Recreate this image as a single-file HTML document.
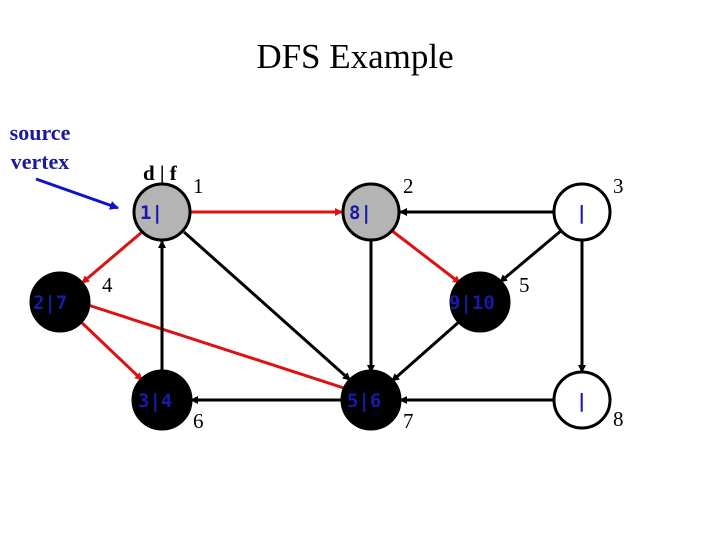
<!DOCTYPE html>
<html><head><style>
body{margin:0;width:720px;height:540px;background:#fff;overflow:hidden}
svg{display:block}
</style></head><body>
<svg width="720" height="540" xmlns="http://www.w3.org/2000/svg">
<defs>
<marker id="ab" markerWidth="8" markerHeight="8" refX="7" refY="4" orient="auto" markerUnits="userSpaceOnUse"><path d="M0,0 L8,4 L0,8 z" fill="#000"/></marker>
<marker id="ar" markerWidth="8" markerHeight="8" refX="7" refY="4" orient="auto" markerUnits="userSpaceOnUse"><path d="M0,0 L8,4 L0,8 z" fill="#e01010"/></marker>
<marker id="au" markerWidth="9" markerHeight="9" refX="8" refY="4.5" orient="auto" markerUnits="userSpaceOnUse"><path d="M0,0 L9,4.5 L0,9 z" fill="#1010d0"/></marker>
</defs>
<text x="355" y="68" font-family="Liberation Serif" font-size="35" text-anchor="middle">DFS Example</text>
<text x="40" y="140" font-family="Liberation Serif" font-size="22" font-weight="bold" fill="#1a1aa0" text-anchor="middle">source</text>
<text x="40" y="169" font-family="Liberation Serif" font-size="22" font-weight="bold" fill="#1a1aa0" text-anchor="middle">vertex</text>
<line x1="36" y1="179" x2="118" y2="208" stroke="#1010d0" stroke-width="3" marker-end="url(#au)"/>
<g stroke-width="3" fill="none">
<line x1="190" y1="212" x2="342" y2="212" stroke="#e01010" marker-end="url(#ar)"/>
<line x1="554" y1="212" x2="400" y2="212" stroke="#000" marker-end="url(#ab)"/>
<line x1="391" y1="230" x2="460" y2="283" stroke="#e01010" marker-end="url(#ar)"/>
<line x1="562" y1="230" x2="500" y2="282" stroke="#000" marker-end="url(#ab)"/>
<line x1="582" y1="240" x2="582" y2="372" stroke="#000" marker-end="url(#ab)"/>
<line x1="142" y1="232" x2="82" y2="283" stroke="#e01010" marker-end="url(#ar)"/>
<line x1="80" y1="321" x2="142" y2="380" stroke="#e01010" marker-end="url(#ar)"/>
<line x1="88" y1="305" x2="350" y2="390" stroke="#e01010" marker-end="url(#ar)"/>
<line x1="184" y1="232" x2="350" y2="380" stroke="#000" marker-end="url(#ab)"/>
<line x1="162" y1="372" x2="162" y2="241" stroke="#000" marker-end="url(#ab)"/>
<line x1="371" y1="240" x2="371" y2="372" stroke="#000" marker-end="url(#ab)"/>
<line x1="460" y1="321" x2="392" y2="381" stroke="#000" marker-end="url(#ab)"/>
<line x1="343" y1="400" x2="191" y2="400" stroke="#000" marker-end="url(#ab)"/>
<line x1="554" y1="400" x2="400" y2="400" stroke="#000" marker-end="url(#ab)"/>
</g>
<g stroke="#000" stroke-width="3">
<circle cx="162" cy="212" r="28" fill="#b4b4b4"/>
<circle cx="371" cy="212" r="28" fill="#b4b4b4"/>
<circle cx="582" cy="212" r="28" fill="#fff"/>
<circle cx="60" cy="302" r="29" fill="#000"/>
<circle cx="480" cy="302" r="29" fill="#000"/>
<circle cx="162" cy="400" r="29" fill="#000"/>
<circle cx="371" cy="400" r="29" fill="#000"/>
<circle cx="582" cy="400" r="28" fill="#fff"/>
</g>
<g font-family="DejaVu Sans Mono, Liberation Mono, monospace" font-size="19" font-weight="bold" fill="#1a1aa8">
<text x="140" y="219">1|</text>
<text x="349" y="219">8|</text>
<text x="576" y="219">|</text>
<text x="33" y="309">2|7</text>
<text x="449" y="309">9|10</text>
<text x="138" y="407">3|4</text>
<text x="347" y="407">5|6</text>
<text x="576" y="407">|</text>
</g>
<g font-family="Liberation Serif" font-size="21" fill="#000">
<text x="143" y="180" font-weight="bold">d | f</text>
<text x="193" y="193">1</text>
<text x="403" y="193">2</text>
<text x="613" y="193">3</text>
<text x="102" y="292">4</text>
<text x="519" y="292">5</text>
<text x="193" y="428">6</text>
<text x="403" y="428">7</text>
<text x="613" y="426">8</text>
</g>
</svg>
</body></html>
